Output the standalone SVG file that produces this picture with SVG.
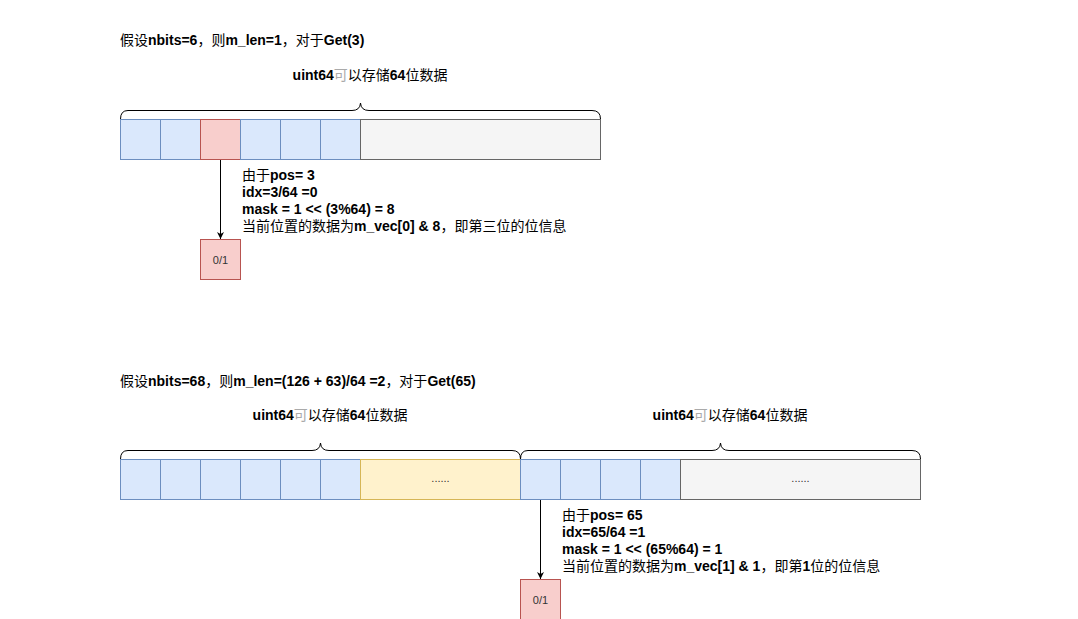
<svg xmlns="http://www.w3.org/2000/svg" width="1078" height="619" viewBox="0 0 1078 619">
  <style>
    text { font-family: "Liberation Sans", "Noto Sans CJK SC", sans-serif; font-size: 14px; font-weight: bold; fill: #000; }
    .cjk { font-family: "Noto Sans CJK SC", sans-serif; font-weight: normal; }
    .dim { fill: #aaaaaa; }
    .small { font-size: 11px; font-weight: normal; fill: #333; }
    .dots { font-size: 11px; font-weight: normal; fill: #333; }
    .blue { fill: #dae8fc; stroke: #6c8ebf; }
    .red { fill: #f8cecc; stroke: #b85450; }
    .gray { fill: #f5f5f5; stroke: #666666; }
    .yellow { fill: #fff2cc; stroke: #d6b656; }
    .brace { fill: none; stroke: #000; stroke-width: 1; }
    .edge { fill: none; stroke: #000; stroke-width: 1; }
  </style>
  <defs>
    <marker id="arrow" markerWidth="8" markerHeight="8" refX="7" refY="4" orient="auto" markerUnits="userSpaceOnUse">
      <path d="M0,0.5 L7,4 L0,7.5 L2,4 Z" fill="#000"/>
    </marker>
  </defs>
  <rect width="1078" height="619" fill="#fff"/>

  <!-- Example 1: nbits = 6 -->
  <g id="title1">
    <text x="120" y="45"><tspan class="cjk">假设</tspan>nbits=6<tspan class="cjk">，则</tspan>m_len=1<tspan class="cjk">，对于</tspan>Get(3)</text>
  </g>
  <g id="label1">
    <text x="370" y="80" text-anchor="middle">uint64<tspan class="cjk dim">可</tspan><tspan class="cjk">以存储</tspan>64<tspan class="cjk">位数据</tspan></text>
  </g>
  <g id="brace1">
    <path class="brace" d="M120.5,119 Q120.5,110.5 128,110.5 L352,110.5 Q360,110.5 360.5,103 Q361,110.5 369,110.5 L592,110.5 Q600.5,110.5 600.5,119"/>
  </g>
  <g id="word1">
    <rect class="blue" x="120.5" y="119.5" width="40" height="40"/>
    <rect class="blue" x="160.5" y="119.5" width="40" height="40"/>
    <rect class="red" x="200.5" y="119.5" width="40" height="40"/>
    <rect class="blue" x="240.5" y="119.5" width="40" height="40"/>
    <rect class="blue" x="280.5" y="119.5" width="40" height="40"/>
    <rect class="blue" x="320.5" y="119.5" width="40" height="40"/>
    <rect class="gray" x="360.5" y="119.5" width="240" height="40"/>
  </g>
  <g id="note1">
    <text x="242" y="180"><tspan class="cjk">由于</tspan>pos= 3</text>
    <text x="242" y="197">idx=3/64 =0</text>
    <text x="242" y="214">mask = 1 &lt;&lt; (3%64) = 8</text>
    <text x="242" y="231"><tspan class="cjk">当前位置的数据为</tspan>m_vec[0] &amp; 8<tspan class="cjk">，即第三位的位信息</tspan></text>
  </g>
  <g id="result1">
    <rect class="red" x="200.5" y="239.5" width="40" height="40"/>
    <text class="small" x="220.5" y="263.5" text-anchor="middle">0/1</text>
  </g>

  <!-- Example 2: nbits = 68 -->
  <g id="title2">
    <text x="120" y="386"><tspan class="cjk">假设</tspan>nbits=68<tspan class="cjk">，则</tspan>m_len=(126 + 63)/64 =2<tspan class="cjk">，对于</tspan>Get(65)</text>
  </g>
  <g id="label2a">
    <text x="330" y="420" text-anchor="middle">uint64<tspan class="cjk dim">可</tspan><tspan class="cjk">以存储</tspan>64<tspan class="cjk">位数据</tspan></text>
  </g>
  <g id="label2b">
    <text x="730" y="420" text-anchor="middle">uint64<tspan class="cjk dim">可</tspan><tspan class="cjk">以存储</tspan>64<tspan class="cjk">位数据</tspan></text>
  </g>
  <g id="brace2a">
    <path class="brace" d="M120.5,459 Q120.5,450.5 128,450.5 L312,450.5 Q320,450.5 320.5,443 Q321,450.5 329,450.5 L512,450.5 Q520.5,450.5 520.5,459"/>
  </g>
  <g id="brace2b">
    <path class="brace" d="M520.5,459 Q520.5,450.5 528,450.5 L712,450.5 Q720,450.5 720.5,443 Q721,450.5 729,450.5 L912,450.5 Q920.5,450.5 920.5,459"/>
  </g>
  <g id="word2a">
    <rect class="blue" x="120.5" y="459.5" width="40" height="40"/>
    <rect class="blue" x="160.5" y="459.5" width="40" height="40"/>
    <rect class="blue" x="200.5" y="459.5" width="40" height="40"/>
    <rect class="blue" x="240.5" y="459.5" width="40" height="40"/>
    <rect class="blue" x="280.5" y="459.5" width="40" height="40"/>
    <rect class="blue" x="320.5" y="459.5" width="40" height="40"/>
    <rect class="yellow" x="360.5" y="459.5" width="160" height="40"/>
    <text class="dots" x="440.5" y="482" text-anchor="middle">......</text>
  </g>
  <g id="word2b">
    <rect class="blue" x="520.5" y="459.5" width="40" height="40"/>
    <rect class="blue" x="560.5" y="459.5" width="40" height="40"/>
    <rect class="blue" x="600.5" y="459.5" width="40" height="40"/>
    <rect class="blue" x="640.5" y="459.5" width="40" height="40"/>
    <rect class="gray" x="680.5" y="459.5" width="240" height="40"/>
    <text class="dots" x="800.5" y="482" text-anchor="middle">......</text>
  </g>
  <g id="note2">
    <text x="562" y="520"><tspan class="cjk">由于</tspan>pos= 65</text>
    <text x="562" y="537">idx=65/64 =1</text>
    <text x="562" y="554">mask = 1 &lt;&lt; (65%64) = 1</text>
    <text x="562" y="571"><tspan class="cjk">当前位置的数据为</tspan>m_vec[1] &amp; 1<tspan class="cjk">，即第</tspan>1<tspan class="cjk">位的位信息</tspan></text>
  </g>
  <g id="result2">
    <rect class="red" x="520.5" y="579.5" width="40" height="40"/>
    <text class="small" x="540.5" y="603.5" text-anchor="middle">0/1</text>
  </g>

  <!-- connectors -->
  <g id="connectors">
    <path class="edge" d="M220.5,160 L220.5,239" marker-end="url(#arrow)"/>
    <path class="edge" d="M540.5,500 L540.5,579" marker-end="url(#arrow)"/>
  </g>
</svg>
